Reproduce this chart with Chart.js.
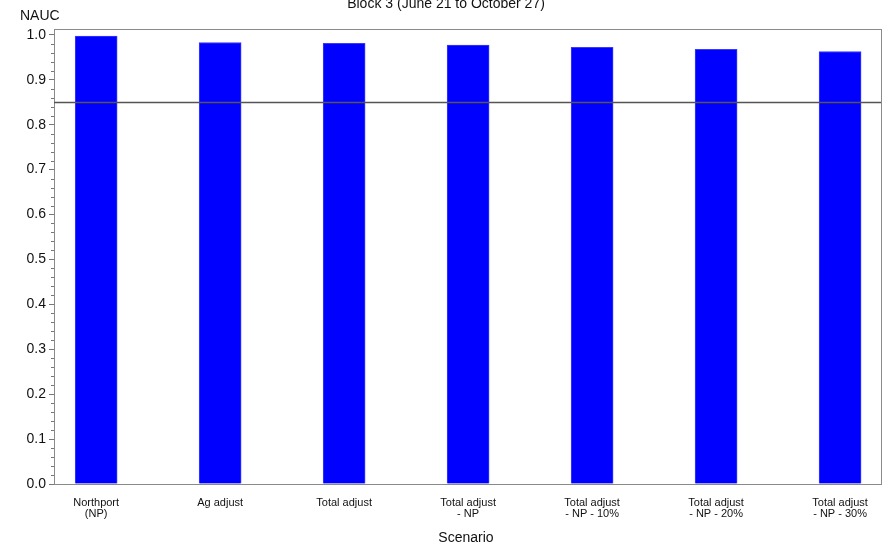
<!DOCTYPE html>
<html>
<head>
<meta charset="utf-8">
<script src="https://cdn.jsdelivr.net/npm/chart.js@4.4.1/dist/chart.umd.min.js"></script>
<style>
  html, body { margin: 0; padding: 0; background: #fff; }
  #wrap { width: 891px; height: 549px; }
</style>
</head>
<body>
<div id="wrap"><canvas id="grafico"></canvas></div>
<script>
// datos
const escenarios = [
  ['Northport', '(NP)'],
  ['Ag adjust'],
  ['Total adjust'],
  ['Total adjust', '- NP'],
  ['Total adjust', '- NP - 10%'],
  ['Total adjust', '- NP - 20%'],
  ['Total adjust', '- NP - 30%']
];
const nauc = [0.997, 0.983, 0.981, 0.977, 0.972, 0.968, 0.963];
const yTicks = [0, 0.1, 0.2, 0.3, 0.4, 0.5, 0.6, 0.7, 0.8, 0.9, 1.0];
const umbral = 0.85;
const titulo = 'Block 3 (June 21 to October 27)';

const fuente = "'Liberation Sans', Arial, sans-serif";
const fuenteNarrow = "'Liberation Sans Narrow', 'Arial Narrow', 'Liberation Sans', sans-serif";

// textos, marco, linea de referencia y ticks menores
const extras = {
  id: 'extras',
  afterDraw(chart) {
    const ctx = chart.ctx;
    const a = chart.chartArea;
    const y = chart.scales.y;
    ctx.save();
    // marco
    ctx.strokeStyle = '#8a8a8a';
    ctx.lineWidth = 1;
    ctx.strokeRect(a.left + 0.5, a.top + 0.5, a.right - a.left, a.bottom - a.top);
    // linea de referencia
    const yy = Math.round(y.getPixelForValue(umbral)) + 0.5;
    ctx.strokeStyle = '#555';
    ctx.lineWidth = 1.3;
    ctx.beginPath();
    ctx.moveTo(a.left, yy);
    ctx.lineTo(a.right, yy);
    ctx.stroke();
    // ticks menores cada 0.02
    ctx.strokeStyle = '#777';
    ctx.lineWidth = 1;
    for (let i = 0; i <= 50; i++) {
      if (i % 5 === 0) continue;
      const p = Math.round(y.getPixelForValue(i * 0.02)) + 0.5;
      ctx.beginPath();
      ctx.moveTo(a.left - 3, p);
      ctx.lineTo(a.left, p);
      ctx.stroke();
    }
    // textos
    ctx.fillStyle = '#111';
    ctx.font = '14px ' + fuente;
    ctx.textAlign = 'center';
    ctx.textBaseline = 'alphabetic';
    ctx.fillText(titulo, 446, 8);
    ctx.textAlign = 'left';
    ctx.textBaseline = 'middle';
    ctx.fillText('NAUC', 20, 16);
    ctx.textAlign = 'center';
    ctx.fillText('Scenario', 466, 538);
    ctx.restore();
  }
};

new Chart(document.getElementById('grafico').getContext('2d'), {
  type: 'bar',
  data: {
    datasets: [{
      label: 'NAUC',
      data: nauc.map((v, i) => ({ x: i, y: v })),
      backgroundColor: '#0000ff',
      borderColor: '#3a3aff',
      borderWidth: 1,
      barThickness: 42
    }]
  },
  plugins: [extras],
  options: {
    responsive: true,
    maintainAspectRatio: false,
    animation: false,
    layout: { padding: { top: 29, right: 10, left: 0, bottom: 0 } },
    plugins: {
      legend: { display: false },
      tooltip: { enabled: false }
    },
    scales: {
      x: {
        type: 'linear',
        offset: false,
        min: -0.34,
        max: 6.33,
        afterBuildTicks: s => { s.ticks = escenarios.map((_, i) => ({ value: i })); },
        afterFit: s => { s.height = 65; },
        grid: { display: false },
        border: { display: true, color: '#8a8a8a' },
        ticks: {
          autoSkip: false,
          maxRotation: 0,
          padding: 6,
          color: '#111',
          font: { family: fuenteNarrow, size: 11, lineHeight: 0.95 },
          callback: v => escenarios[v]
        }
      },
      y: {
        min: 0,
        max: 1.013,
        afterBuildTicks: s => { s.ticks = yTicks.map(v => ({ value: v })); },
        afterFit: s => { s.width = 54; },
        grid: { drawOnChartArea: false, tickLength: 5, color: '#777' },
        border: { display: true, color: '#8a8a8a' },
        ticks: {
          padding: 3,
          color: '#111',
          font: { family: fuente, size: 14 },
          callback: v => v.toFixed(1)
        }
      }
    }
  }
});
</script>
</body>
</html>
